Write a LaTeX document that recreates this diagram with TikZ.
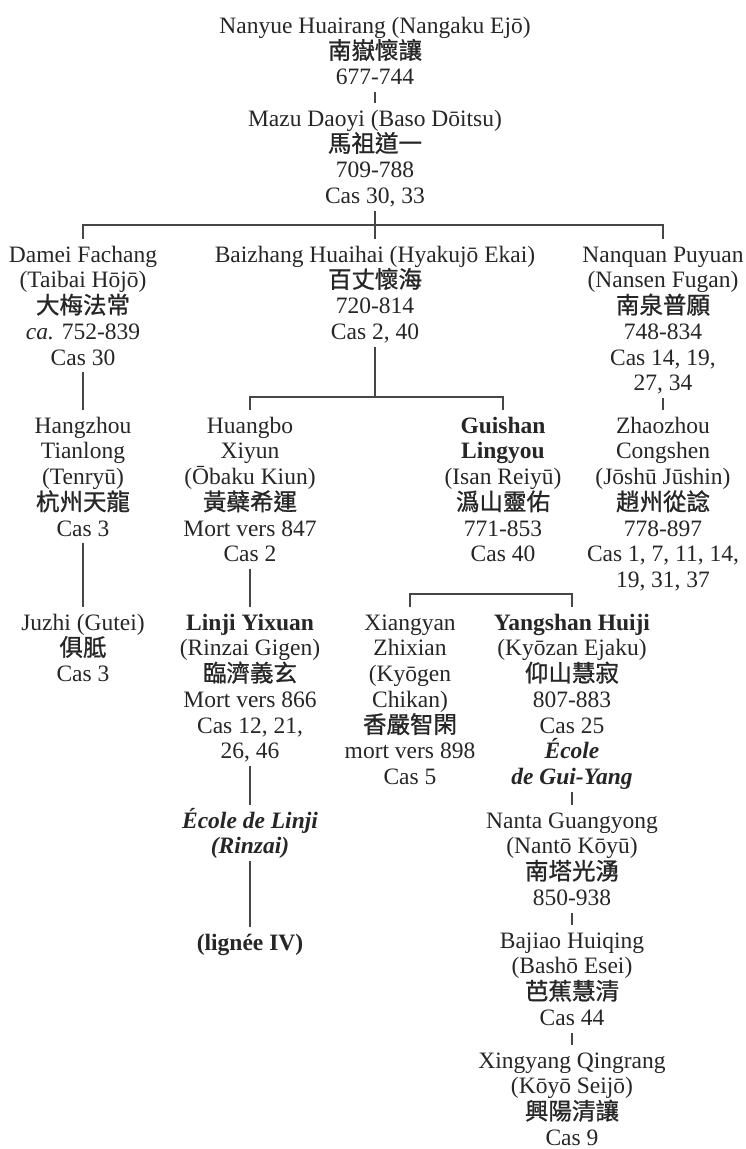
\documentclass[tikz,border=0pt]{standalone}
\usepackage{fontspec}
\setmainfont{Liberation Serif}
\newfontfamily\cjk{Noto Sans CJK TC}[FakeBold=1]
\definecolor{txt}{RGB}{38,38,38}
\definecolor{ln}{RGB}{70,70,70}
\newcommand\TopStr{\rule{0pt}{23pt}}
\newcommand\BotStr{\rule[-7pt]{0pt}{7pt}}
\newcommand\hz[1]{{\cjk #1}}
\tikzset{
  person/.style={anchor=north, align=center, inner sep=0pt, text=txt,
    font=\fontsize{23.5}{25.7}\selectfont},
  link/.style={draw=ln, line width=1.2pt}
}
\begin{document}
\lineskiplimit=-50pt
\begin{tikzpicture}[x=1pt,y=-1pt]
\useasboundingbox (0,0) rectangle (746,1149);
\node[person] (nanyue) at (375,10) {\TopStr Nanyue Huairang (Nangaku Ejō)\\\hz{南嶽懷讓}\\677-744\BotStr};
\node[person] (mazu) at (375,103) {\TopStr Mazu Daoyi (Baso Dōitsu)\\\hz{馬祖道一}\\709-788\\Cas 30, 33\BotStr};
\node[person] (damei) at (83,239) {\TopStr Damei Fachang\\(Taibai Hōjō)\\\hz{大梅法常}\\\textit{ca.} 752-839\\Cas 30\BotStr};
\node[person] (baizhang) at (375,239) {\TopStr Baizhang Huaihai (Hyakujō Ekai)\\\hz{百丈懷海}\\720-814\\Cas 2, 40\BotStr};
\node[person] (nanquan) at (663,239) {\TopStr Nanquan Puyuan\\(Nansen Fugan)\\\hz{南泉普願}\\748-834\\Cas 14, 19,\\27, 34\BotStr};
\node[person] (hangzhou) at (83,410) {\TopStr Hangzhou\\Tianlong\\(Tenryū)\\\hz{杭州天龍}\\Cas 3\BotStr};
\node[person] (huangbo) at (250,410) {\TopStr Huangbo\\Xiyun\\(Ōbaku Kiun)\\\hz{黃蘗希運}\\Mort vers 847\\Cas 2\BotStr};
\node[person] (guishan) at (503,410) {\TopStr\textbf{Guishan}\\\textbf{Lingyou}\\(Isan Reiyū)\\\hz{潙山靈佑}\\771-853\\Cas 40\BotStr};
\node[person] (zhaozhou) at (663,410) {\TopStr Zhaozhou\\Congshen\\(Jōshū Jūshin)\\\hz{趙州從諗}\\778-897\\Cas 1, 7, 11, 14,\\19, 31, 37\BotStr};
\node[person] (juzhi) at (83,607) {\TopStr Juzhi (Gutei)\\\hz{俱胝}\\Cas 3\BotStr};
\node[person] (linji) at (250,607) {\TopStr\textbf{Linji Yixuan}\\(Rinzai Gigen)\\\hz{臨濟義玄}\\Mort vers 866\\Cas 12, 21,\\26, 46\BotStr};
\node[person] (ecole) at (250,805) {\TopStr\textbf{\textit{École de Linji}}\\\textbf{\textit{(Rinzai)}}\BotStr};
\node[person] (lignee) at (250,927) {\TopStr\textbf{(lignée IV)}\BotStr};
\node[person] (xiangyan) at (410,607) {\TopStr Xiangyan\\Zhixian\\(Kyōgen\\Chikan)\\\hz{香嚴智閑}\\mort vers 898\\Cas 5\BotStr};
\node[person] (yangshan) at (572,607) {\TopStr\textbf{Yangshan Huiji}\\(Kyōzan Ejaku)\\\hz{仰山慧寂}\\807-883\\Cas 25\\\textbf{\textit{École}}\\\textbf{\textit{de Gui-Yang}}\BotStr};
\node[person] (nanta) at (572,805) {\TopStr Nanta Guangyong\\(Nantō Kōyū)\\\hz{南塔光湧}\\850-938\BotStr};
\node[person] (bajiao) at (572,925) {\TopStr Bajiao Huiqing\\(Bashō Esei)\\\hz{芭蕉慧清}\\Cas 44\BotStr};
\node[person] (xingyang) at (572,1045) {\TopStr Xingyang Qingrang\\(Kōyō Seijō)\\\hz{興陽清讓}\\Cas 9\BotStr};
\coordinate (j1) at (375,225);
\coordinate (j2) at (375,397);
\coordinate (j3) at (491,594);
\draw[link] (nanyue.south) -- (mazu.north);
\draw[link] (mazu.south) -- (j1);
\draw[link] (damei.north) |- (j1) -| (nanquan.north);
\draw[link] (j1) -- (baizhang.north);
\draw[link] (baizhang.south) -- (j2);
\draw[link] (huangbo.north) |- (j2) -| (guishan.north);
\draw[link] (damei.south) -- (hangzhou.north);
\draw[link] (nanquan.south) -- (zhaozhou.north);
\draw[link] (hangzhou.south) -- (juzhi.north);
\draw[link] (huangbo.south) -- (linji.north);
\draw[link] (linji.south) -- (ecole.north);
\draw[link] (ecole.south) -- (lignee.north);
\draw[link] (xiangyan.north) |- (j3) -| (yangshan.north);
\draw[link] (yangshan.south) -- (nanta.north);
\draw[link] (nanta.south) -- (bajiao.north);
\draw[link] (bajiao.south) -- (xingyang.north);
\end{tikzpicture}
\end{document}
